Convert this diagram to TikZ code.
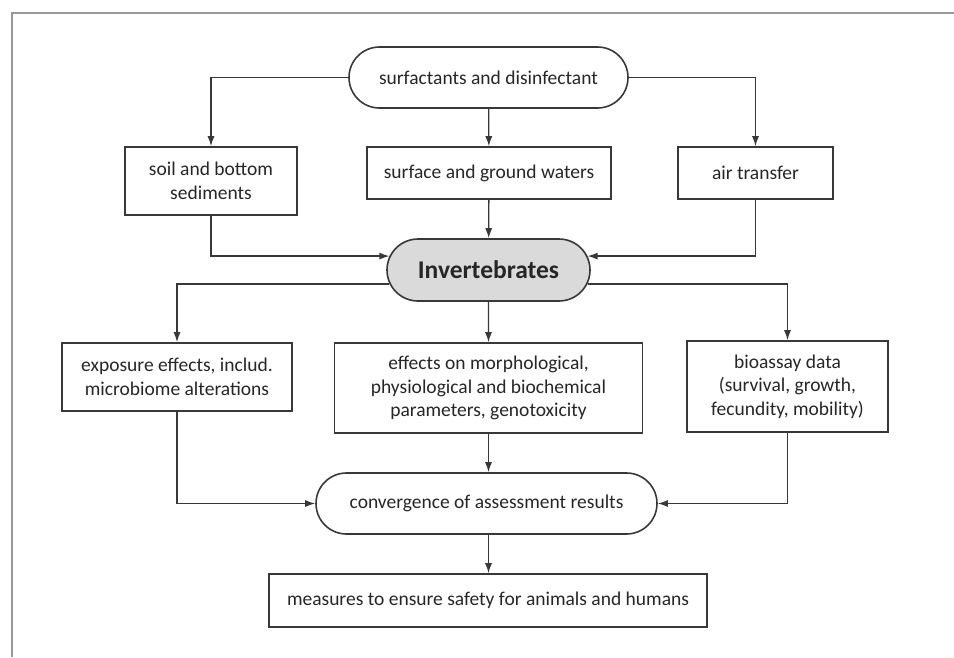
\documentclass[tikz,border=0pt]{standalone}
\usepackage{fontspec}
\setmainfont{Carlito}
\usetikzlibrary{shapes.misc,arrows.meta}

\definecolor{linec}{HTML}{383838}
\definecolor{invfill}{HTML}{DADADA}

\tikzset{
  box/.style={draw=linec,line width=1.6pt,rectangle,align=center,inner sep=0pt,
    text=black!85,font=\fontsize{19.5}{23.5}\selectfont},
  pill/.style={box,rounded rectangle},
  link/.style={->,draw=linec,line width=1.3pt},
}

\begin{document}
\begin{tikzpicture}[x=1pt,y=-1pt,>={Latex[length=10pt,width=7pt]}]

\useasboundingbox (0,0) rectangle (954,657);
\draw [black!40,line width=2pt] (12,657) -- (12,13) -- (954,13);

\node [pill,minimum width=279,minimum height=61] at (488.5,77.5) (src) {surfactants and disinfectant};

\node [box,minimum width=172,minimum height=68] at (211,181) (soil) {soil and bottom\\sediments};
\node [box,minimum width=244,minimum height=52] at (489,173) (water) {surface and ground waters};
\node [box,minimum width=155,minimum height=52] at (755.5,173) (air) {air transfer};

\node [pill,fill=invfill,minimum width=203,minimum height=62,font=\fontsize{25.5}{30}\selectfont\bfseries] at (488.5,270) (inv) {Invertebrates};

\node [box,minimum width=230,minimum height=68] at (177,377) (expo) {exposure effects, includ.\\microbiome alterations};
\node [box,minimum width=308,minimum height=90] at (488.5,388) (morph) {effects on morphological,\\physiological and biochemical\\parameters, genotoxicity};
\node [box,minimum width=201,minimum height=91] at (787.5,386.5) (bio) {bioassay data\\(survival, growth,\\fecundity, mobility)};

\node [pill,minimum width=341,minimum height=61] at (486.5,503.5) (conv) {convergence of assessment results};
\node [box,minimum width=438,minimum height=53] at (488,600.5) (safe) {measures to ensure safety for animals and humans};

\draw [link] (src.west) -| (soil.north);
\draw [link] (src) -- (water);
\draw [link] (src.east) -| (air.north);

\draw [link] (soil.south) |- (inv.172);
\draw [link] (water) -- (inv);
\draw [link] (air.south) |- (inv.8);

\draw [link] (inv.188) -| (expo.north);
\draw [link] (inv) -- (morph);
\draw [link] (inv.352) -| (bio.north);

\draw [link] (expo.south) |- (conv.west);
\draw [link] (morph.south) -- (morph.south |- conv.north);
\draw [link] (bio.south) |- (conv.east);

\draw [link] (morph.south |- conv.south) -- (morph.south |- safe.north);

\end{tikzpicture}
\end{document}
